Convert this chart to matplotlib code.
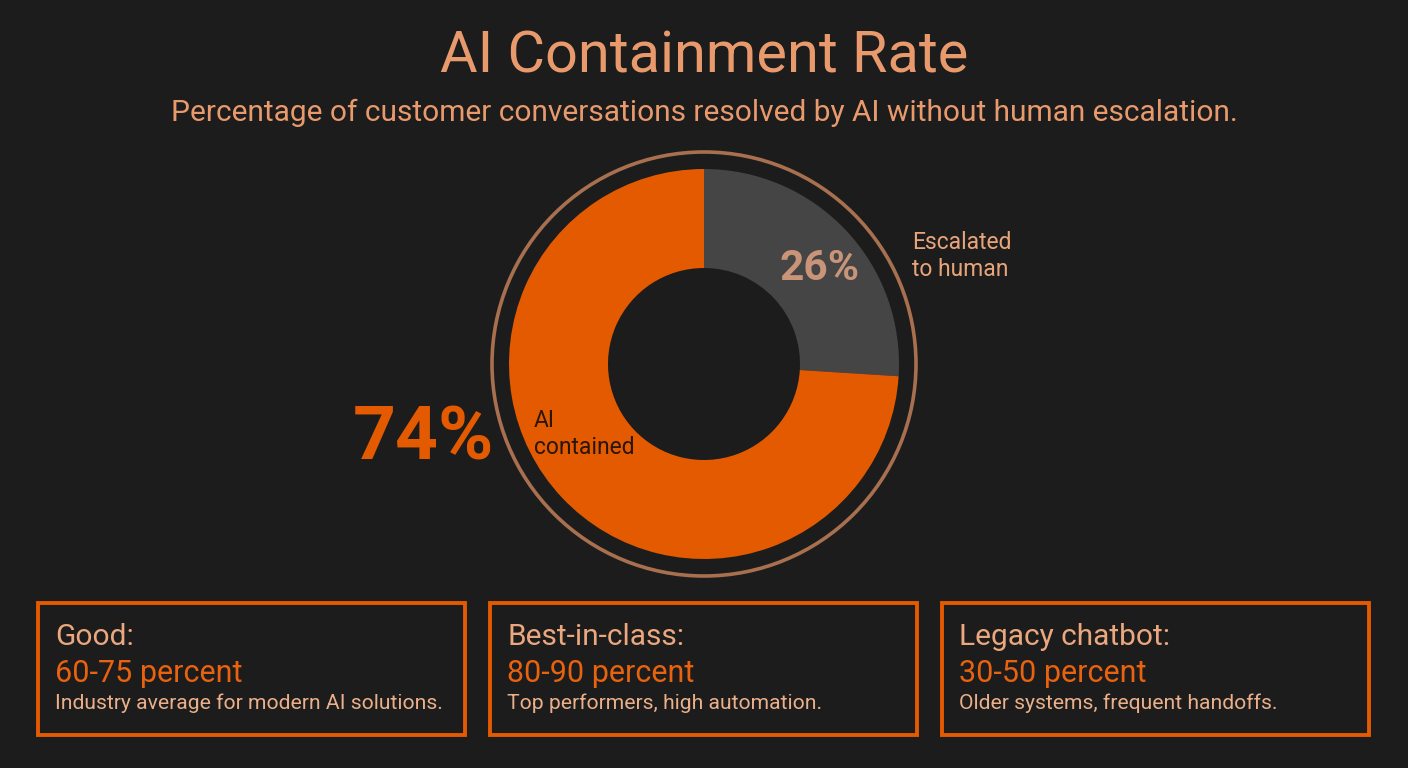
import matplotlib
matplotlib.use("Agg")
import matplotlib.pyplot as plt
from matplotlib.patches import Circle, Rectangle

plt.rcParams['font.family'] = ['Roboto', 'DejaVu Sans']

# Data
segment_labels = ["Escalated\nto human", "AI\ncontained"]
segment_values = [26, 74]
segment_colors = ["#454545", "#E35A00"]

box_titles = ["Good:", "Best-in-class:", "Legacy chatbot:"]
box_ranges = ["60-75 percent", "80-90 percent", "30-50 percent"]
box_notes = ["Industry average for modern AI solutions.",
             "Top performers, high automation.",
             "Older systems, frequent handoffs."]

BG = "#1c1c1c"
W, H = 1408, 768

fig = plt.figure(figsize=(W / 100, H / 100), dpi=100, facecolor=BG)
ax = fig.add_axes([0, 0, 1, 1])
ax.set_facecolor(BG)

def Y(y):
    return H - y

# Donut
cx, cy = 704, Y(364)
R = 195
ax.pie(segment_values, colors=segment_colors, startangle=90, counterclock=False,
       center=(cx, cy), radius=R, wedgeprops=dict(width=R - 96, linewidth=0),
       frame=True)
ax.set_xlim(0, W)
ax.set_ylim(0, H)
ax.set_aspect("equal")
ax.axis("off")
ax.add_patch(Circle((cx, cy), 212, fill=False, edgecolor="#A8704F", linewidth=2.6))

# Title
ax.text(704, Y(57), "AI Containment Rate", ha="center", va="center",
        fontsize=41.5, color="#E99A6C")
ax.text(704, Y(113), "Percentage of customer conversations resolved by AI without human escalation.",
        ha="center", va="center", fontsize=21.5, color="#E99A6C")

# Labels
ax.text(820, Y(268), f"{segment_values[0]}%", ha="center", va="center",
        fontsize=30.5, fontweight="bold", color="#C99478")
ax.text(912, Y(256), segment_labels[0], ha="left", va="center",
        fontsize=16.5, color="#E8A57A", linespacing=1.2)
ax.text(423, Y(440), f"{segment_values[1]}%", ha="center", va="center",
        fontsize=54, fontweight="bold", color="#E35A00")
ax.text(534, Y(434), segment_labels[1], ha="left", va="center",
        fontsize=16.5, color="#2a1608", linespacing=1.2)

# Boxes
box_x = [38, 490, 942]
box_w = 427
box_top, box_bot = 603, 735
for i in range(3):
    x0 = box_x[i]
    ax.add_patch(Rectangle((x0, Y(box_bot)), box_w, box_bot - box_top,
                           fill=False, edgecolor="#E35A00", linewidth=2.8))
    ax.text(x0 + 17, Y(637), box_titles[i], ha="left", va="center",
            fontsize=21.5, color="#EBA77E")
    ax.text(x0 + 17, Y(673), box_ranges[i], ha="left", va="center",
            fontsize=22, color="#E8620F")
    ax.text(x0 + 17, Y(703), box_notes[i], ha="left", va="center",
            fontsize=15.2, color="#EBB08A")

fig.savefig("out.png", dpi=100, facecolor=BG)
